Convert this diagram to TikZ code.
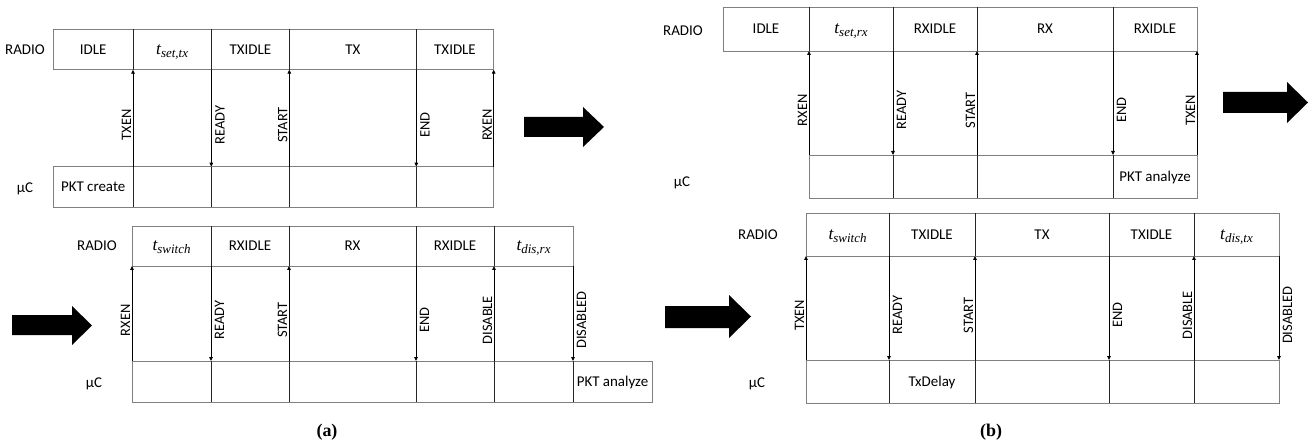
\documentclass[tikz,border=0pt]{standalone}
\usepackage{fontspec}
\setmainfont{Carlito}
\newfontfamily\capfont{Liberation Serif}
\newfontfamily\varfont{Liberation Serif}
\usetikzlibrary{arrows.meta}
\tikzset{
 cell/.style={draw=black!50, line width=0.8bp, inner sep=0pt, outer sep=0pt, font=\fontsize{15}{18}\selectfont, text height=9.6bp, text depth=0pt},
 divider/.style={draw=black!85, line width=0.8bp},
 sig/.style={draw=black, line width=0.8bp, -{Triangle[length=4bp,width=3.6bp]}},
 siglab/.style={rotate=90, font=\fontsize{14.5}{17}\selectfont, text height=9.3bp, text depth=0pt},
 uplab/.style={siglab, anchor=south, inner sep=1.5bp},
 dnlab/.style={siglab, anchor=north, inner sep=3.5bp},
 rowlab/.style={font=\fontsize{15}{18}\selectfont, text height=9.6bp, text depth=0pt, inner sep=0pt},
 bigarrow/.style={fill=black},
 caption/.style={font=\capfont\bfseries\fontsize{18}{21}\selectfont, inner sep=0pt}
}
\newcommand\tvar[1]{{\varfont\itshape\fontsize{17.5}{20}\selectfont t\raisebox{-3.2bp}{\fontsize{13}{15}\selectfont #1}}}
\newcommand\cellrow[4]{%
 \foreach \xa/\xb/\txt [count=\i] in {#4}{%
   \node[cell, minimum width={(\xb-\xa)*1bp}, minimum height={(#3-#2)*1bp}] (#1\i) at ({(\xa+\xb)/2},{(#2+#3)/2}) {\txt};
   \ifnum\i>1 \draw[divider] (#1\i.north west) -- (#1\i.south west);\fi
 }}
\begin{document}
\begin{tikzpicture}[x=1bp,y=-1bp]
\useasboundingbox (0,0) rectangle (1311,441);

% ---------- (a) top ----------
\node[rowlab] (a1radio) at (25,50) {RADIO};
\node[rowlab] (a1uc) at (25,188) {µC};
\cellrow{a1r}{29.3}{69.7}{53.3/133/IDLE, 133/211.3/{\tvar{set,tx}}, 211.3/289.3/TXIDLE, 289.3/416.3/TX, 416.3/493.7/TXIDLE}
\cellrow{a1m}{166.7}{207.3}{53.3/133/{PKT create}, 133/211.3/{}, 211.3/289.3/{}, 289.3/416.3/{}, 416.3/493.7/{}}
\draw[sig] (a1m1.north east) -- node[uplab, pos=.43] (a1s1) {TXEN} (a1r1.south east);
\draw[sig] (a1r2.south east) -- node[dnlab, pos=.57] (a1s2) {READY} (a1m2.north east);
\draw[sig] (a1m3.north east) -- node[uplab, pos=.43] (a1s3) {START} (a1r3.south east);
\draw[sig] (a1r4.south east) -- node[dnlab, pos=.57] (a1s4) {END} (a1m4.north east);
\draw[sig] (a1m5.north east) -- node[uplab, pos=.43] (a1s5) {RXEN} (a1r5.south east);

% ---------- (a) bottom ----------
\node[rowlab] (a2radio) at (97,246) {RADIO};
\node[rowlab] (a2uc) at (94,383) {µC};
\cellrow{a2r}{226}{266}{132/211/{\tvar{switch}}, 211/289/RXIDLE, 289/416/RX, 416/494/RXIDLE, 494/573/{\tvar{dis,rx}}}
\cellrow{a2m}{361}{402}{132/211/{}, 211/289/{}, 289/416/{}, 416/494/{}, 494/573/{}, 573/652/{PKT analyze}}
\draw[sig] (a2m1.north west) -- node[uplab, pos=.43] (a2s1) {RXEN} (a2r1.south west);
\draw[sig] (a2r1.south east) -- node[dnlab, pos=.57] (a2s2) {READY} (a2m1.north east);
\draw[sig] (a2m2.north east) -- node[uplab, pos=.43] (a2s3) {START} (a2r2.south east);
\draw[sig] (a2r3.south east) -- node[dnlab, pos=.57] (a2s4) {END} (a2m3.north east);
\draw[sig] (a2m4.north east) -- node[uplab, pos=.43] (a2s5) {DISABLE} (a2r4.south east);
\draw[sig] (a2r5.south east) -- node[dnlab, pos=.57] (a2s6) {DISABLED} (a2m5.north east);

% ---------- (b) top ----------
\node[rowlab] (b1radio) at (683,31) {RADIO};
\node[rowlab] (b1uc) at (682,182) {µC};
\cellrow{b1r}{7}{51}{723/809/IDLE, 809/893/{\tvar{set,rx}}, 893/977/RXIDLE, 977/1113/RX, 1113/1197/RXIDLE}
\cellrow{b1m}{155}{198}{809/893/{}, 893/977/{}, 977/1113/{}, 1113/1197/{PKT analyze}}
\draw[sig] (b1m1.north west) -- node[uplab, pos=.43] (b1s1) {RXEN} (b1r1.south east);
\draw[sig] (b1r2.south east) -- node[dnlab, pos=.57] (b1s2) {READY} (b1m1.north east);
\draw[sig] (b1m2.north east) -- node[uplab, pos=.43] (b1s3) {START} (b1r3.south east);
\draw[sig] (b1r4.south east) -- node[dnlab, pos=.57] (b1s4) {END} (b1m3.north east);
\draw[sig] (b1m4.north east) -- node[uplab, pos=.43] (b1s5) {TXEN} (b1r5.south east);

% ---------- (b) bottom ----------
\node[rowlab] (b2radio) at (758,235) {RADIO};
\node[rowlab] (b2uc) at (757,383) {µC};
\cellrow{b2r}{213}{256}{806/889/{\tvar{switch}}, 889/975/TXIDLE, 975/1109/TX, 1109/1194/TXIDLE, 1194/1279/{\tvar{dis,tx}}}
\cellrow{b2m}{360}{403}{806/889/{}, 889/975/TxDelay, 975/1109/{}, 1109/1194/{}, 1194/1279/{}}
\draw[sig] (b2m1.north west) -- node[uplab, pos=.43] (b2s1) {TXEN} (b2r1.south west);
\draw[sig] (b2r1.south east) -- node[dnlab, pos=.57] (b2s2) {READY} (b2m1.north east);
\draw[sig] (b2m2.north east) -- node[uplab, pos=.43] (b2s3) {START} (b2r2.south east);
\draw[sig] (b2r3.south east) -- node[dnlab, pos=.57] (b2s4) {END} (b2m3.north east);
\draw[sig] (b2m4.north east) -- node[uplab, pos=.43] (b2s5) {DISABLE} (b2r4.south east);
\draw[sig] (b2r5.south east) -- node[dnlab, pos=.57] (b2s6) {DISABLED} (b2m5.north east);

% ---------- big arrows ----------
\fill[bigarrow] (524,117) -- (583,117) -- (583,107) -- (604,127) -- (583,147) -- (583,137) -- (524,137) -- cycle;
\fill[bigarrow] (1223,92) -- (1287,92) -- (1287,82) -- (1308,102.5) -- (1287,123) -- (1287,113) -- (1223,113) -- cycle;
\fill[bigarrow] (12,315) -- (72,315) -- (72,306) -- (92,325.5) -- (72,345) -- (72,335) -- (12,335) -- cycle;
\fill[bigarrow] (665,306) -- (729,306) -- (729,295) -- (751,316.5) -- (729,338) -- (729,328) -- (665,328) -- cycle;

% ---------- captions ----------
\node[caption] (capa) at (327,432) {(a)};
\node[caption] (capb) at (991,432) {(b)};
\end{tikzpicture}
\end{document}
